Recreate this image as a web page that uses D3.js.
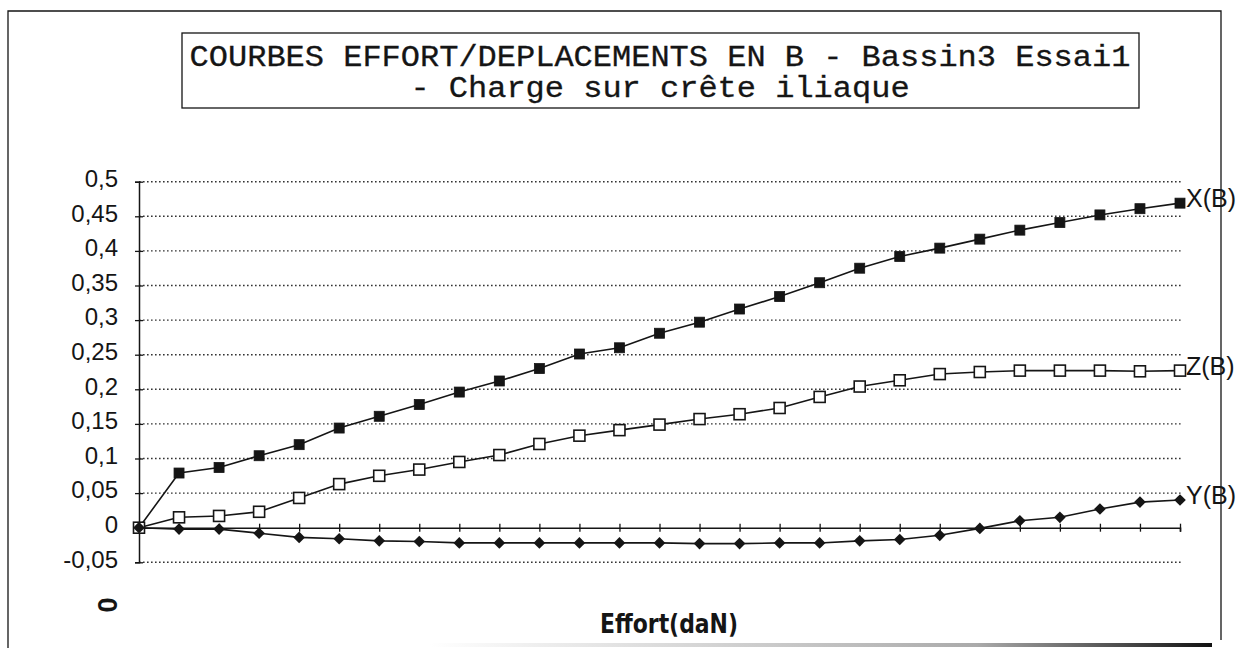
<!DOCTYPE html>
<html>
<head>
<meta charset="utf-8">
<script src="https://cdn.jsdelivr.net/npm/d3@7"></script>
<style>
  body { margin: 0; background: #fff; }
  svg { display: block; }
</style>
</head>
<body>
<div id="chart"></div>
<script>
// Data (27 load steps, no x labels printed)
var steps = ["0", "1", "2", "3", "4", "5", "6", "7", "8", "9", "10", "11", "12", "13",
             "14", "15", "16", "17", "18", "19", "20", "21", "22", "23", "24", "25", "26"];

var xB = [0, 0.079, 0.087, 0.104, 0.120, 0.144, 0.161, 0.178, 0.196, 0.212, 0.230, 0.251, 0.260, 0.281,
          0.297, 0.316, 0.334, 0.354, 0.375, 0.392, 0.404, 0.417, 0.430, 0.441, 0.452, 0.461, 0.469];

var zB = [0, 0.015, 0.017, 0.023, 0.043, 0.063, 0.075, 0.084, 0.095, 0.105, 0.121, 0.133, 0.141, 0.149,
          0.157, 0.164, 0.173, 0.189, 0.204, 0.213, 0.222, 0.225, 0.227, 0.227, 0.227, 0.226, 0.227];

var yB = [0, -0.002, -0.002, -0.008, -0.014, -0.016, -0.019, -0.020, -0.022,
          -0.022, -0.022, -0.022, -0.022, -0.022, -0.023, -0.023, -0.022, -0.022,
          -0.019, -0.017, -0.011, -0.001, 0.010, 0.015, 0.027, 0.037, 0.040];

var yTicks = [-0.05, 0, 0.05, 0.1, 0.15, 0.2, 0.25, 0.3, 0.35, 0.4, 0.45, 0.5];

var titleLines = ["COURBES EFFORT/DEPLACEMENTS EN B - Bassin3 Essai1", "- Charge sur crête iliaque"];

var W = 1242, H = 648,
    ink = "#151515",
    sans = "'Liberation Sans', Arial, sans-serif",
    mono = "'Liberation Mono', 'Courier New', monospace",
    pitch = 19.2; // typewriter cell width of the title

// Scales
var xScale = d3.scalePoint()
    .domain(steps)
    .range([139, 1180]);
var yScale = d3.scaleLinear()
    .domain([-0.05, 0.5])
    .range([562.3, 181.7]);

var svg = d3.select("#chart").append("svg")
    .attr("width", W)
    .attr("height", H);

svg.append("rect").attr("width", W).attr("height", H).attr("fill", "#fff");

// Outer frame
svg.append("path")
    .attr("d", "M8,660 L8,11 L1221,11 L1221,640")
    .attr("fill", "none")
    .attr("stroke", ink)
    .attr("stroke-width", 1.3);

// Shadow at bottom edge
var grad = svg.append("defs").append("linearGradient")
    .attr("id", "shade")
    .attr("x1", "0%").attr("x2", "100%");
grad.append("stop").attr("offset", "0%").attr("stop-color", "#fff");
grad.append("stop").attr("offset", "70%").attr("stop-color", "#aaa");
grad.append("stop").attr("offset", "100%").attr("stop-color", "#111");
svg.append("rect")
    .attr("x", 430).attr("y", 643)
    .attr("width", 782).attr("height", 4)
    .attr("fill", "url(#shade)");

// Title box
svg.append("rect")
    .attr("x", 182).attr("y", 33)
    .attr("width", 957).attr("height", 75)
    .attr("fill", "#fff")
    .attr("stroke", ink)
    .attr("stroke-width", 1.3);

svg.selectAll(".title")
  .data(titleLines)
  .enter().append("text")
    .attr("class", "title")
    .attr("x", 660)
    .attr("y", function(d, i) { return 66 + i * 31; })
    .attr("text-anchor", "middle")
    .attr("font-family", mono)
    .attr("font-size", 29)
    .attr("textLength", function(d) { return d.length * pitch; })
    .attr("lengthAdjust", "spacingAndGlyphs")
    .attr("fill", ink)
    .attr("stroke", ink)
    .attr("stroke-width", 0.3)
    .text(function(d) { return d; });

// Grid lines (dotted)
svg.append("g")
  .selectAll("line")
  .data(yTicks.filter(function(d) { return d != 0; }))
  .enter().append("line")
    .attr("x1", 139)
    .attr("x2", 1182)
    .attr("y1", function(d) { return yScale(d); })
    .attr("y2", function(d) { return yScale(d); })
    .attr("stroke", "#333")
    .attr("stroke-width", 1.4)
    .attr("stroke-dasharray", "1.6,2.4");

// Y axis
var yAxis = svg.append("g")
    .attr("transform", "translate(139,0)")
    .call(d3.axisLeft(yScale)
      .tickValues(yTicks)
      .tickSizeOuter(0)
      .tickSize(4)
      .tickFormat(function(d) { return String(+d.toFixed(2)).replace(".", ","); }));
yAxis.select(".domain").attr("stroke", ink).attr("stroke-width", 1.5);
yAxis.selectAll(".tick line").attr("x1", 4).attr("x2", -4).attr("stroke", ink).attr("stroke-width", 1.3);
yAxis.selectAll(".tick text")
    .attr("x", -21)
    .attr("dy", "0.2em")
    .attr("font-family", sans)
    .attr("font-size", 24)
    .attr("fill", ink);

// X axis at zero
var xAxis = svg.append("g")
    .attr("transform", "translate(0," + yScale(0) + ")")
    .call(d3.axisBottom(xScale)
      .tickSizeOuter(0)
      .tickSize(4)
      .tickFormat(""));
xAxis.select(".domain").attr("stroke", ink).attr("stroke-width", 1.6);
xAxis.selectAll(".tick line").attr("y1", -4).attr("y2", 4).attr("stroke", ink).attr("stroke-width", 1.3);

// Series
var series = [
  {key: "X(B)", values: xB, marker: "filled"},
  {key: "Z(B)", values: zB, marker: "open"},
  {key: "Y(B)", values: yB, marker: "diamond"}
];

var line = d3.line()
    .x(function(d, i) { return xScale(steps[i]); })
    .y(function(d) { return yScale(d); });

series.forEach(function(s) {
  var g = svg.append("g").attr("class", "series");

  g.append("path")
      .datum(s.values)
      .attr("d", line)
      .attr("fill", "none")
      .attr("stroke", ink)
      .attr("stroke-width", 1.6);

  var pts = g.selectAll(".pt")
    .data(s.values)
    .enter();

  if (s.marker == "diamond") {
    pts.append("path")
        .attr("d", d3.symbol().type(d3.symbolSquare).size(68))
        .attr("transform", function(d, i) {
          return "translate(" + xScale(steps[i]) + "," + yScale(d) + ") rotate(45)";
        })
        .attr("fill", ink);
  } else {
    var sz = s.marker == "open" ? 11 : 10;
    pts.append("rect")
        .attr("x", function(d, i) { return xScale(steps[i]) - sz / 2; })
        .attr("y", function(d) { return yScale(d) - sz / 2; })
        .attr("width", sz)
        .attr("height", sz)
        .attr("fill", s.marker == "open" ? "#fff" : ink)
        .attr("stroke", ink)
        .attr("stroke-width", s.marker == "open" ? 1.6 : 0.8);
  }

  // Label at the end of the curve
  g.append("text")
      .attr("x", xScale(steps[steps.length - 1]) + 6)
      .attr("y", yScale(s.values[s.values.length - 1]) - 5)
      .attr("dy", "0.36em")
      .attr("font-family", sans)
      .attr("font-size", 25)
      .attr("fill", ink)
      .text(s.key);
});

// Lone x label "0" (printed sideways)
svg.append("text")
    .attr("transform", "translate(107,605) rotate(-90)")
    .attr("text-anchor", "middle")
    .attr("dy", "0.36em")
    .attr("font-family", sans)
    .attr("font-weight", "bold")
    .attr("font-size", 27)
    .attr("fill", ink)
    .text("0");

// X axis title
svg.append("text")
    .attr("x", 669)
    .attr("y", 633)
    .attr("text-anchor", "middle")
    .attr("font-family", "'Liberation Sans Narrow', 'DejaVu Sans Condensed', sans-serif")
    .attr("font-weight", "bold")
    .attr("font-size", 27)
    .attr("textLength", 138)
    .attr("lengthAdjust", "spacingAndGlyphs")
    .attr("fill", ink)
    .text("Effort(daN)");
</script>
</body>
</html>
